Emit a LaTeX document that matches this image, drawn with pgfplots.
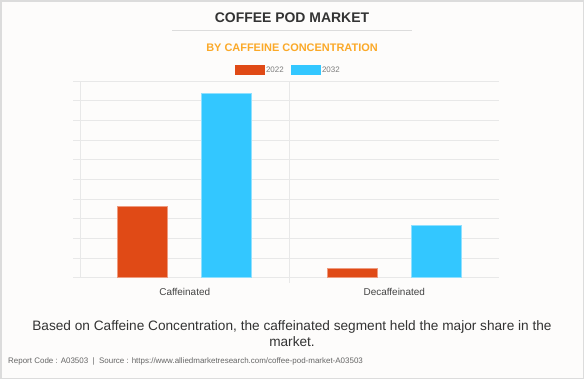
\documentclass[border=0pt]{standalone}
\usepackage{pgfplots}
\pgfplotsset{compat=1.18}
\usepackage{fontspec}
\setmainfont{Liberation Sans}
\definecolor{bgc}{HTML}{FDFCFB}
\definecolor{framec}{HTML}{DCDCDC}
\definecolor{gridc}{HTML}{E8E8E8}
\definecolor{barred}{HTML}{E04A16}
\definecolor{barblue}{HTML}{33C7FF}
\definecolor{titlec}{HTML}{333333}
\definecolor{subc}{HTML}{FBA928}
\definecolor{labc}{HTML}{444444}
\definecolor{footc}{HTML}{666666}
\begin{document}
\begin{tikzpicture}
\fill[bgc] (0bp,0bp) rectangle (584bp,-379bp);
\draw[framec, line width=1.5bp] (0.75bp,-0.75bp) rectangle (583.25bp,-378.25bp);
\node[text=titlec, font=\fontsize{14}{16}\selectfont\bfseries] at (292bp,-17.2bp) {COFFEE POD MARKET};
\draw[framec, line width=1bp] (172bp,-30.5bp) -- (412bp,-30.5bp);
\node[text=subc, font=\fontsize{11}{13}\selectfont\bfseries] at (292bp,-47.5bp) {BY CAFFEINE CONCENTRATION};
\begin{axis}[
  at={(80bp,-277.7bp)}, anchor=south west,
  width=419bp, height=196.7bp, scale only axis,
  xmin=0, xmax=2, ymin=0, ymax=10,
  axis x line*=bottom, axis y line*=left,
  axis line style={draw=gridc, line width=1bp},
  xtick={0.5,1.5}, xticklabels={Caffeinated,Decaffeinated},
  minor xtick={1}, xminorgrids,
  ytick={0,1,...,10}, yticklabels={},
  ymajorgrids,
  grid style={draw=gridc, line width=1bp},
  minor grid style={draw=gridc, line width=1bp},
  tick align=outside,
  major tick length=7bp, minor tick length=5bp,
  major x tick style={draw=none},
  minor x tick style={draw=gridc, line width=1bp},
  major y tick style={draw=gridc, line width=1bp},
  xticklabel style={font=\fontsize{10}{12}\selectfont, text=labc},
  ybar, bar width=0.2387,
  legend columns=2,
  legend style={at={(rel axis cs:0.4964,1.056)}, anchor=center, draw=none, fill=none,
    font=\fontsize{8}{9}\selectfont, text=footc!85!white,
    nodes={inner sep=1.5bp},
    /tikz/every even column/.append style={column sep=5.5bp}},
]
\addplot+[bar shift=-0.2, fill=barred, draw=barred!55!white, line width=0.8bp,
  legend image code/.code={\fill[barred] (0bp,-4.65bp) rectangle (29bp,4.65bp);}]
  coordinates {(0.5,3.61) (1.5,0.48)};
\addplot+[bar shift=0.2, fill=barblue, draw=barblue!55!white, line width=0.8bp,
  legend image code/.code={\fill[barblue] (0bp,-4.65bp) rectangle (29bp,4.65bp);}]
  coordinates {(0.5,9.375) (1.5,2.64)};
\legend{2022,2032}
\end{axis}
\node[text=titlec, font=\fontsize{13.7}{16}\selectfont] at (292bp,-326.5bp) {Based on Caffeine Concentration, the caffeinated segment held the major share in the};
\node[text=titlec, font=\fontsize{13.7}{16}\selectfont] at (292bp,-342bp) {market.};
\node[text=footc, font=\fontsize{8}{9}\selectfont, anchor=west, inner sep=0pt] at (8bp,-361bp) {Report Code : A03503~~|~~Source : https://www.alliedmarketresearch.com/coffee-pod-market-A03503};
\end{tikzpicture}
\end{document}
